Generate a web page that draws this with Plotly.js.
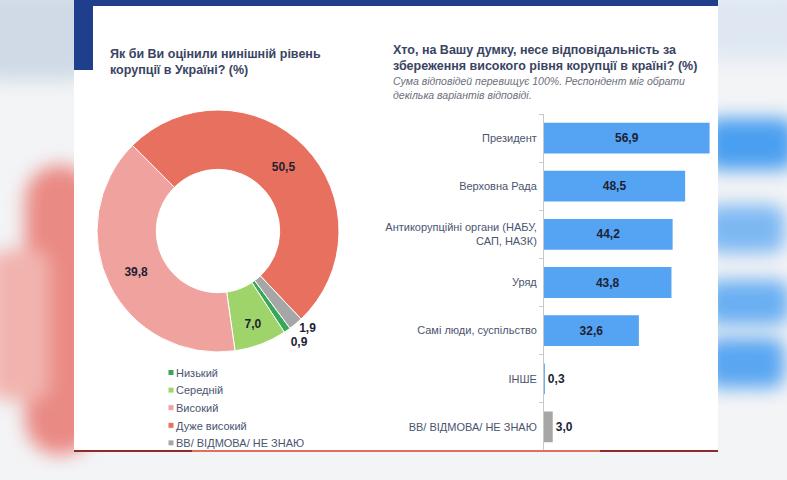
<!DOCTYPE html>
<html>
<head>
<meta charset="utf-8">
<script src="https://cdn.plot.ly/plotly-3.0.1.min.js"></script>
<style>
  html, body { margin: 0; padding: 0; background: #eef1f4; }
  #wrap { position: relative; width: 787px; height: 480px; overflow: hidden; background: #f3f4f6; }
  .blob { position: absolute; filter: blur(9px); border-radius: 14px; }
  #slide { position: absolute; left: 74px; top: 0; width: 644px; height: 452px; background: #fff; }
  #chart { position: absolute; left: 0; top: 0; width: 787px; height: 480px; }
  #chart .textline { display: none; }
</style>
</head>
<body>
<div id="wrap">
  <!-- blurred photo background on both sides -->
  <div class="blob" style="left:-20px;top:-10px;width:110px;height:90px;background:#cfdae6;"></div>
  <div class="blob" style="left:25px;top:165px;width:70px;height:290px;background:#ea8a84;border-radius:40px;"></div>
  <div class="blob" style="left:-10px;top:250px;width:60px;height:150px;background:#f1b3ae;"></div>
  <div class="blob" style="left:700px;top:-10px;width:110px;height:70px;background:#dfe8f2;"></div>
  <div class="blob" style="left:705px;top:118px;width:90px;height:52px;background:#4b9ff0;"></div>
  <div class="blob" style="left:705px;top:205px;width:80px;height:48px;background:#7db8f3;"></div>
  <div class="blob" style="left:705px;top:280px;width:85px;height:45px;background:#6aaff2;"></div>
  <div class="blob" style="left:705px;top:338px;width:80px;height:50px;background:#5aa6f1;"></div>
  <div id="slide"></div>
  <div id="chart"></div>
</div>
<script>
// ---- data --------------------------------------------------------------------
const LEVEL_LABELS = ['Низький', 'Середній', 'Високий', 'Дуже високий', 'ВВ/ ВІДМОВА/ НЕ ЗНАЮ'];
const LEVEL_VALUES = [0.9, 7.0, 39.8, 50.5, 1.9];
const LEVEL_COLORS = ['#38a757', '#9fd46b', '#f0a29f', '#e8705f', '#a6a6a6'];

const RESP_LABELS = [
  'Президент',
  'Верховна Рада',
  'Антикорупційні органи (НАБУ,<br>САП, НАЗК)',
  'Уряд',
  'Самі люди, суспільство',
  'ІНШЕ',
  'ВВ/ ВІДМОВА/ НЕ ЗНАЮ',
];
const RESP_VALUES = [56.9, 48.5, 44.2, 43.8, 32.6, 0.3, 3.0];
const RESP_COLORS = ['#55a3f3', '#55a3f3', '#55a3f3', '#55a3f3', '#55a3f3', '#55a3f3', '#a6a6a6'];

const FONT = 'Liberation Sans, Arial, sans-serif';
const TITLE_COLOR = '#3a4462';
const W = 787, H = 480;
const px = x => x / W;
const py = y => 1 - y / H;

// ---- traces ------------------------------------------------------------------
const donut = {
  type: 'pie',
  labels: LEVEL_LABELS,
  values: LEVEL_VALUES,
  sort: false,
  direction: 'clockwise',
  rotation: 143.5,
  hole: 0.51,
  domain: { x: [px(97), px(339)], y: [py(352), py(110)] },
  marker: { colors: LEVEL_COLORS, line: { color: '#fff', width: 1 } },
  texttemplate: '%{value:.1f}',
  textposition: ['outside', 'inside', 'inside', 'inside', 'outside'],
  insidetextorientation: 'horizontal',
  textfont: { family: FONT, size: 12, color: '#1d2233', weight: 'bold' },
  hoverinfo: 'skip',
  showlegend: true,
};

const bars = {
  type: 'bar',
  orientation: 'h',
  y: RESP_LABELS,
  x: RESP_VALUES,
  width: 0.64,
  marker: { color: RESP_COLORS },
  texttemplate: '%{x:.1f}',
  textposition: ['inside', 'inside', 'inside', 'inside', 'inside', 'outside', 'outside'],
  insidetextanchor: 'middle',
  constraintext: 'none',
  cliponaxis: false,
  textfont: { family: FONT, size: 12, color: '#1d2233', weight: 'bold' },
  hoverinfo: 'skip',
  showlegend: false,
  xaxis: 'x', yaxis: 'y',
};

// ---- layout ------------------------------------------------------------------
const layout = {
  width: W, height: H,
  margin: { l: 0, r: 0, t: 0, b: 0 },
  paper_bgcolor: 'rgba(0,0,0,0)',
  plot_bgcolor: 'rgba(0,0,0,0)',
  separators: ',.',
  font: { family: FONT, color: '#4a5570' },
  xaxis: {
    domain: [px(544), px(718.6)],
    range: [0, 60],
    visible: false,
    fixedrange: true,
  },
  yaxis: {
    domain: [py(451), py(114)],
    autorange: 'reversed',
    showline: true, linecolor: '#c8c8c8', linewidth: 1,
    ticks: 'outside', tickson: 'boundaries', ticklen: 4, tickcolor: '#c8c8c8',
    ticklabelstandoff: 4,
    tickfont: { family: FONT, size: 11, color: '#4a5570' },
    showgrid: false, zeroline: false,
  },
  legend: {
    x: px(136), y: py(358), xanchor: 'left', yanchor: 'top',
    font: { family: FONT, size: 11, color: '#4a5570' },
    bgcolor: 'rgba(0,0,0,0)',
    traceorder: 'normal',
  },
  shapes: [
    // slide header and bottom rule
    { type: 'rect', xref: 'paper', yref: 'paper', x0: px(74), x1: px(718), y0: py(6), y1: py(0),
      fillcolor: '#1f3f8c', line: { width: 0 }, layer: 'below' },
    { type: 'rect', xref: 'paper', yref: 'paper', x0: px(74), x1: px(93), y0: py(70), y1: py(0),
      fillcolor: '#1f3f8c', line: { width: 0 }, layer: 'below' },
    { type: 'line', xref: 'paper', yref: 'paper', x0: px(74), x1: px(192), y0: py(451), y1: py(451),
      line: { color: '#8e2a2a', width: 2 } },
    { type: 'line', xref: 'paper', yref: 'paper', x0: px(192), x1: px(600), y0: py(451), y1: py(451),
      line: { color: '#e0705e', width: 2 } },
    { type: 'line', xref: 'paper', yref: 'paper', x0: px(600), x1: px(718), y0: py(451), y1: py(451),
      line: { color: '#8e2a2a', width: 2 } },
  ],
  annotations: [
    { xref: 'paper', yref: 'paper', x: px(108), y: py(45), xanchor: 'left', yanchor: 'top', align: 'left',
      showarrow: false, text: '<b>Як би Ви оцінили нинішній рівень<br>корупції в Україні? (%)</b>',
      font: { family: FONT, size: 12.5, color: TITLE_COLOR } },
    { xref: 'paper', yref: 'paper', x: px(391), y: py(41), xanchor: 'left', yanchor: 'top', align: 'left',
      showarrow: false,
      text: '<b>Хто, на Вашу думку, несе відповідальність за<br>збереження високого рівня корупції в країні? (%)</b>',
      font: { family: FONT, size: 12.5, color: TITLE_COLOR } },
    { xref: 'paper', yref: 'paper', x: px(391), y: py(73), xanchor: 'left', yanchor: 'top', align: 'left',
      showarrow: false,
      text: '<i>Сума відповідей перевищує 100%. Респондент міг обрати<br>декілька варіантів відповіді.</i>',
      font: { family: FONT, size: 10.5, color: '#6b6f7a' } },
  ],
};

Plotly.newPlot('chart', [donut, bars], layout, { staticPlot: true, displayModeBar: false }).then(gd => {
  // smaller legend squares sitting right against the text, like the slide
  gd.querySelectorAll('.legend path.legendpie').forEach(p => {
    p.setAttribute('d', 'M3,3H-3V-3H3Z');
    p.setAttribute('transform', 'translate(35,0)');
  });
  // tighter legend rows
  const rows = gd.querySelectorAll('.legend g.traces');
  if (rows.length) {
    const m = /translate\(([-\d.]+),\s*([-\d.]+)\)/.exec(rows[0].getAttribute('transform') || '');
    const x0 = m ? +m[1] : 0, y0 = m ? +m[2] : 0;
    rows.forEach((r, i) => r.setAttribute('transform', `translate(${x0},${y0 + i * 17.6})`));
  }
});
</script>
</body>
</html>
